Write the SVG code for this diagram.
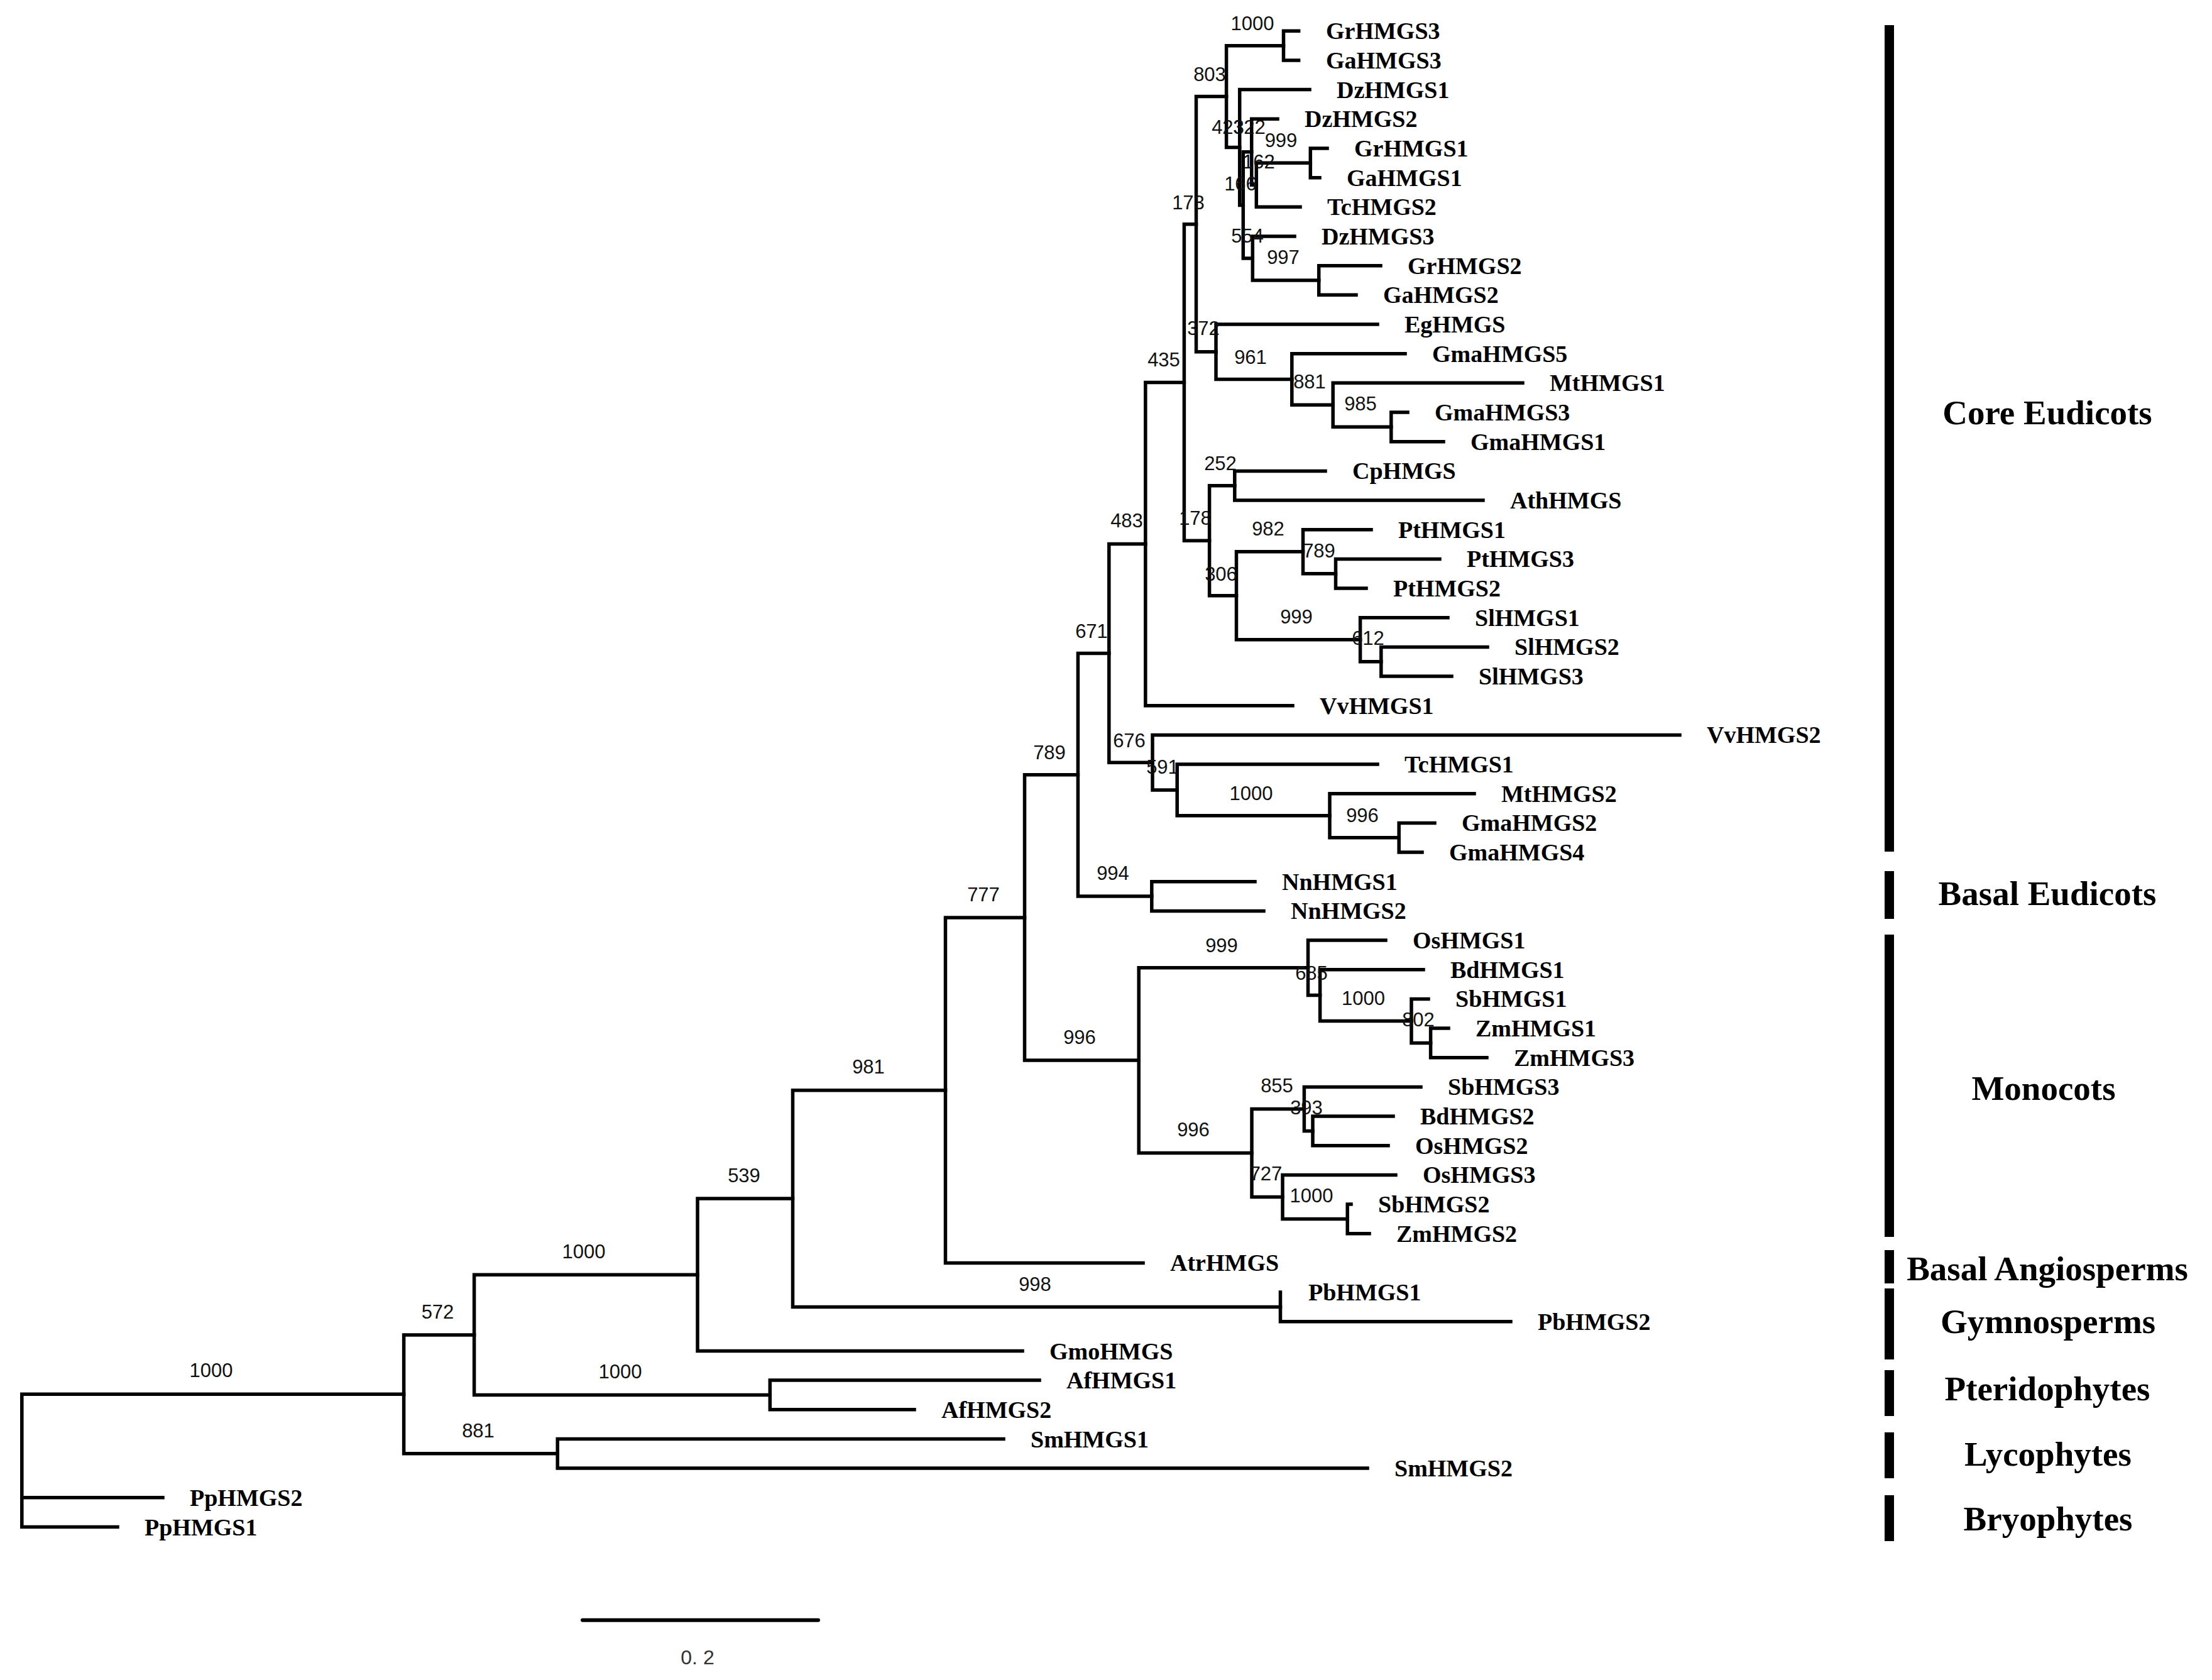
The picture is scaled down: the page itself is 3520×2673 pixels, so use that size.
<svg xmlns="http://www.w3.org/2000/svg" width="3520" height="2673" viewBox="0 0 3520 2673">
<style>
.br{fill:none;stroke:#000;stroke-width:5.5;stroke-linecap:square}
.lf{font-family:"Liberation Serif","Times New Roman",serif;font-weight:bold;font-size:38px;fill:#000}
.bs{font-family:"Liberation Sans Narrow","Liberation Sans",Arial,sans-serif;font-size:31px;fill:#111;text-anchor:middle}
.cl{font-family:"Liberation Serif","Times New Roman",serif;font-weight:bold;font-size:55px;fill:#000;text-anchor:middle}
.bar{fill:#000}
</style>
<rect width="3520" height="2673" fill="#fff"/>
<g id="connectors">
<path class="br" d="M2042.5,49.3V96 M2042.5,49.3H2066.6 M2042.5,96H2066.6"/>
<path class="br" d="M2085.3,236V282.7 M2085.3,236H2112 M2085.3,282.7H2100"/>
<path class="br" d="M1999.3,259.35V329.3 M1999.3,259.35H2085.3 M1999.3,329.3H2069"/>
<path class="br" d="M1991.7,189.3V294.3 M1991.7,189.3H2033 M1991.7,294.3H1999.3"/>
<path class="br" d="M2098.7,422.7V469.3 M2098.7,422.7H2197 M2098.7,469.3H2158"/>
<path class="br" d="M1993.3,376V446 M1993.3,376H2060 M1993.3,446H2098.7"/>
<path class="br" d="M1978.3,241.8V411 M1978.3,241.8H1991.7 M1978.3,411H1993.3"/>
<path class="br" d="M1972.7,142.6V326.4 M1972.7,142.6H2084 M1972.7,326.4H1978.3"/>
<path class="br" d="M1951.6,72.65V234.5 M1951.6,72.65H2042.5 M1951.6,234.5H1972.7"/>
<path class="br" d="M2213.8,656V702.7 M2213.8,656H2240 M2213.8,702.7H2297"/>
<path class="br" d="M2121.2,609.3V679.35 M2121.2,609.3H2423 M2121.2,679.35H2213.8"/>
<path class="br" d="M2055.8,562.7V644.3 M2055.8,562.7H2236 M2055.8,644.3H2121.2"/>
<path class="br" d="M1935,516V603.5 M1935,516H2192 M1935,603.5H2055.8"/>
<path class="br" d="M1903.5,153.6V559.75 M1903.5,153.6H1951.6 M1903.5,559.75H1935"/>
<path class="br" d="M1964.8,749.4V796 M1964.8,749.4H2109 M1964.8,796H2360"/>
<path class="br" d="M2125.5,889.4V936 M2125.5,889.4H2291 M2125.5,936H2174"/>
<path class="br" d="M2073.5,842.7V912.7 M2073.5,842.7H2182 M2073.5,912.7H2125.5"/>
<path class="br" d="M2197.8,1029.4V1076 M2197.8,1029.4H2367 M2197.8,1076H2310"/>
<path class="br" d="M2164.6,982.7V1052.7 M2164.6,982.7H2304 M2164.6,1052.7H2197.8"/>
<path class="br" d="M1967.5,877.7V1017.7 M1967.5,877.7H2073.5 M1967.5,1017.7H2164.6"/>
<path class="br" d="M1924.6,772.7V947.7 M1924.6,772.7H1964.8 M1924.6,947.7H1967.5"/>
<path class="br" d="M1884.4,356.7V860.2 M1884.4,356.7H1903.5 M1884.4,860.2H1924.6"/>
<path class="br" d="M1822.8,608.5V1122.7 M1822.8,608.5H1884.4 M1822.8,1122.7H2057"/>
<path class="br" d="M2226.2,1309.4V1356.1 M2226.2,1309.4H2283 M2226.2,1356.1H2263"/>
<path class="br" d="M2116,1262.7V1332.75 M2116,1262.7H2346 M2116,1332.75H2226.2"/>
<path class="br" d="M1873.2,1216.1V1297.7 M1873.2,1216.1H2192 M1873.2,1297.7H2116"/>
<path class="br" d="M1834,1169.4V1256.9 M1834,1169.4H2673 M1834,1256.9H1873.2"/>
<path class="br" d="M1764.8,865.6V1213.15 M1764.8,865.6H1822.8 M1764.8,1213.15H1834"/>
<path class="br" d="M1832.8,1402.7V1449.4 M1832.8,1402.7H1997 M1832.8,1449.4H2011"/>
<path class="br" d="M1715.4,1039.4V1426.05 M1715.4,1039.4H1764.8 M1715.4,1426.05H1832.8"/>
<path class="br" d="M2276.6,1636.1V1682.8 M2276.6,1636.1H2305 M2276.6,1682.8H2366"/>
<path class="br" d="M2246,1589.4V1659.45 M2246,1589.4H2273 M2246,1659.45H2276.6"/>
<path class="br" d="M2100.6,1542.7V1624.4 M2100.6,1542.7H2265 M2100.6,1624.4H2246"/>
<path class="br" d="M2081.5,1496.1V1583.55 M2081.5,1496.1H2205 M2081.5,1583.55H2100.6"/>
<path class="br" d="M2089,1776.1V1822.8 M2089,1776.1H2217 M2089,1822.8H2209"/>
<path class="br" d="M2075.4,1729.4V1799.45 M2075.4,1729.4H2261 M2075.4,1799.45H2089"/>
<path class="br" d="M2144.2,1916.1V1962.8 M2144.2,1916.1H2150 M2144.2,1962.8H2179"/>
<path class="br" d="M2041,1869.4V1939.45 M2041,1869.4H2221 M2041,1939.45H2144.2"/>
<path class="br" d="M1992,1764.4V1904.4 M1992,1764.4H2075.4 M1992,1904.4H2041"/>
<path class="br" d="M1812.2,1539.8V1834.4 M1812.2,1539.8H2081.5 M1812.2,1834.4H1992"/>
<path class="br" d="M1630.5,1232.7V1687.1 M1630.5,1232.7H1715.4 M1630.5,1687.1H1812.2"/>
<path class="br" d="M1504.5,1459.9V2009.4 M1504.5,1459.9H1630.5 M1504.5,2009.4H1819"/>
<path class="br" d="M2037.5,2056.1V2102.8 M2037.5,2102.8H2404"/>
<path class="br" d="M1261.5,1734.65V2079.45 M1261.5,1734.65H1504.5 M1261.5,2079.45H2037.5"/>
<path class="br" d="M1110,1907.05V2149.5 M1110,1907.05H1261.5 M1110,2149.5H1627"/>
<path class="br" d="M1225.3,2196.1V2242.8 M1225.3,2196.1H1654 M1225.3,2242.8H1455"/>
<path class="br" d="M754.6,2028.3V2219.45 M754.6,2028.3H1110 M754.6,2219.45H1225.3"/>
<path class="br" d="M887.2,2289.5V2336.1 M887.2,2289.5H1597 M887.2,2336.1H2176"/>
<path class="br" d="M642.6,2123.9V2312.8 M642.6,2123.9H754.6 M642.6,2312.8H887.2"/>
<path class="br" d="M34.8,2218.35V2429.5 M34.8,2218.35H642.6 M34.8,2382.8H259 M34.8,2429.5H187"/>
</g>
<g id="leaves">
<g id="leaf-GrHMGS3"><text class="lf" x="2110" y="62">GrHMGS3</text></g>
<g id="leaf-GaHMGS3"><text class="lf" x="2110" y="109">GaHMGS3</text></g>
<g id="leaf-DzHMGS1"><text class="lf" x="2127" y="155.6">DzHMGS1</text></g>
<g id="leaf-DzHMGS2"><text class="lf" x="2076" y="202.3">DzHMGS2</text></g>
<g id="leaf-GrHMGS1"><text class="lf" x="2155" y="249">GrHMGS1</text></g>
<g id="leaf-GaHMGS1"><text class="lf" x="2143" y="295.7">GaHMGS1</text></g>
<g id="leaf-TcHMGS2"><text class="lf" x="2112" y="342.3">TcHMGS2</text></g>
<g id="leaf-DzHMGS3"><text class="lf" x="2103" y="389">DzHMGS3</text></g>
<g id="leaf-GrHMGS2"><text class="lf" x="2240" y="435.7">GrHMGS2</text></g>
<g id="leaf-GaHMGS2"><text class="lf" x="2201" y="482.3">GaHMGS2</text></g>
<g id="leaf-EgHMGS"><text class="lf" x="2235" y="529">EgHMGS</text></g>
<g id="leaf-GmaHMGS5"><text class="lf" x="2279" y="575.7">GmaHMGS5</text></g>
<g id="leaf-MtHMGS1"><text class="lf" x="2466" y="622.3">MtHMGS1</text></g>
<g id="leaf-GmaHMGS3"><text class="lf" x="2283" y="669">GmaHMGS3</text></g>
<g id="leaf-GmaHMGS1"><text class="lf" x="2340" y="715.7">GmaHMGS1</text></g>
<g id="leaf-CpHMGS"><text class="lf" x="2152" y="762.4">CpHMGS</text></g>
<g id="leaf-AthHMGS"><text class="lf" x="2403" y="809">AthHMGS</text></g>
<g id="leaf-PtHMGS1"><text class="lf" x="2225" y="855.7">PtHMGS1</text></g>
<g id="leaf-PtHMGS3"><text class="lf" x="2334" y="902.4">PtHMGS3</text></g>
<g id="leaf-PtHMGS2"><text class="lf" x="2217" y="949">PtHMGS2</text></g>
<g id="leaf-SlHMGS1"><text class="lf" x="2347" y="995.7">SlHMGS1</text></g>
<g id="leaf-SlHMGS2"><text class="lf" x="2410" y="1042.4">SlHMGS2</text></g>
<g id="leaf-SlHMGS3"><text class="lf" x="2353" y="1089">SlHMGS3</text></g>
<g id="leaf-VvHMGS1"><text class="lf" x="2100" y="1135.7">VvHMGS1</text></g>
<g id="leaf-VvHMGS2"><text class="lf" x="2716" y="1182.4">VvHMGS2</text></g>
<g id="leaf-TcHMGS1"><text class="lf" x="2235" y="1229.1">TcHMGS1</text></g>
<g id="leaf-MtHMGS2"><text class="lf" x="2389" y="1275.7">MtHMGS2</text></g>
<g id="leaf-GmaHMGS2"><text class="lf" x="2326" y="1322.4">GmaHMGS2</text></g>
<g id="leaf-GmaHMGS4"><text class="lf" x="2306" y="1369.1">GmaHMGS4</text></g>
<g id="leaf-NnHMGS1"><text class="lf" x="2040" y="1415.7">NnHMGS1</text></g>
<g id="leaf-NnHMGS2"><text class="lf" x="2054" y="1462.4">NnHMGS2</text></g>
<g id="leaf-OsHMGS1"><text class="lf" x="2248" y="1509.1">OsHMGS1</text></g>
<g id="leaf-BdHMGS1"><text class="lf" x="2308" y="1555.7">BdHMGS1</text></g>
<g id="leaf-SbHMGS1"><text class="lf" x="2316" y="1602.4">SbHMGS1</text></g>
<g id="leaf-ZmHMGS1"><text class="lf" x="2348" y="1649.1">ZmHMGS1</text></g>
<g id="leaf-ZmHMGS3"><text class="lf" x="2409" y="1695.8">ZmHMGS3</text></g>
<g id="leaf-SbHMGS3"><text class="lf" x="2304" y="1742.4">SbHMGS3</text></g>
<g id="leaf-BdHMGS2"><text class="lf" x="2260" y="1789.1">BdHMGS2</text></g>
<g id="leaf-OsHMGS2"><text class="lf" x="2252" y="1835.8">OsHMGS2</text></g>
<g id="leaf-OsHMGS3"><text class="lf" x="2264" y="1882.4">OsHMGS3</text></g>
<g id="leaf-SbHMGS2"><text class="lf" x="2193" y="1929.1">SbHMGS2</text></g>
<g id="leaf-ZmHMGS2"><text class="lf" x="2222" y="1975.8">ZmHMGS2</text></g>
<g id="leaf-AtrHMGS"><text class="lf" x="1862" y="2022.4">AtrHMGS</text></g>
<g id="leaf-PbHMGS1"><text class="lf" x="2082" y="2069.1">PbHMGS1</text></g>
<g id="leaf-PbHMGS2"><text class="lf" x="2447" y="2115.8">PbHMGS2</text></g>
<g id="leaf-GmoHMGS"><text class="lf" x="1670" y="2162.5">GmoHMGS</text></g>
<g id="leaf-AfHMGS1"><text class="lf" x="1697" y="2209.1">AfHMGS1</text></g>
<g id="leaf-AfHMGS2"><text class="lf" x="1498" y="2255.8">AfHMGS2</text></g>
<g id="leaf-SmHMGS1"><text class="lf" x="1640" y="2302.5">SmHMGS1</text></g>
<g id="leaf-SmHMGS2"><text class="lf" x="2219" y="2349.1">SmHMGS2</text></g>
<g id="leaf-PpHMGS2"><text class="lf" x="302" y="2395.8">PpHMGS2</text></g>
<g id="leaf-PpHMGS1"><text class="lf" x="230" y="2442.5">PpHMGS1</text></g>
</g>
<g id="bootstrap">
<g id="bs-n1"><text class="bs" x="1993" y="47.5">1000</text></g>
<g id="bs-n2"><text class="bs" x="1925" y="129">803</text></g>
<g id="bs-n3"><text class="bs" x="1954" y="213">423</text></g>
<g id="bs-n4"><text class="bs" x="1988" y="213">322</text></g>
<g id="bs-n5"><text class="bs" x="2038.5" y="234">999</text></g>
<g id="bs-n6"><text class="bs" x="2003" y="268">162</text></g>
<g id="bs-n7"><text class="bs" x="1974" y="302.7">166</text></g>
<g id="bs-n8"><text class="bs" x="1891" y="333">173</text></g>
<g id="bs-n9"><text class="bs" x="1985" y="386">554</text></g>
<g id="bs-n10"><text class="bs" x="2042" y="420">997</text></g>
<g id="bs-n11"><text class="bs" x="1915" y="533">372</text></g>
<g id="bs-n12"><text class="bs" x="1852" y="583">435</text></g>
<g id="bs-n13"><text class="bs" x="1990" y="579">961</text></g>
<g id="bs-n14"><text class="bs" x="2084" y="618">881</text></g>
<g id="bs-n15"><text class="bs" x="2165" y="653">985</text></g>
<g id="bs-n16"><text class="bs" x="1942" y="748">252</text></g>
<g id="bs-n17"><text class="bs" x="1902" y="835">178</text></g>
<g id="bs-n18"><text class="bs" x="1793" y="839">483</text></g>
<g id="bs-n19"><text class="bs" x="2018" y="852">982</text></g>
<g id="bs-n20"><text class="bs" x="2099" y="887">789</text></g>
<g id="bs-n21"><text class="bs" x="1943" y="924">306</text></g>
<g id="bs-n22"><text class="bs" x="2063" y="992">999</text></g>
<g id="bs-n23"><text class="bs" x="2177" y="1026">612</text></g>
<g id="bs-n24"><text class="bs" x="1737" y="1014.5">671</text></g>
<g id="bs-n25"><text class="bs" x="1797" y="1189">676</text></g>
<g id="bs-n26"><text class="bs" x="1670" y="1208">789</text></g>
<g id="bs-n27"><text class="bs" x="1850" y="1231">591</text></g>
<g id="bs-n28"><text class="bs" x="1991" y="1273">1000</text></g>
<g id="bs-n29"><text class="bs" x="2168" y="1308">996</text></g>
<g id="bs-n30"><text class="bs" x="1771" y="1400">994</text></g>
<g id="bs-n31"><text class="bs" x="1565" y="1434">777</text></g>
<g id="bs-n32"><text class="bs" x="1944" y="1514.5">999</text></g>
<g id="bs-n33"><text class="bs" x="2087" y="1559">685</text></g>
<g id="bs-n34"><text class="bs" x="2169.5" y="1598.6">1000</text></g>
<g id="bs-n35"><text class="bs" x="2257" y="1633">802</text></g>
<g id="bs-n36"><text class="bs" x="1718" y="1661">996</text></g>
<g id="bs-n37"><text class="bs" x="1382" y="1708">981</text></g>
<g id="bs-n38"><text class="bs" x="2032" y="1738">855</text></g>
<g id="bs-n39"><text class="bs" x="2079" y="1772.5">393</text></g>
<g id="bs-n40"><text class="bs" x="1899" y="1808">996</text></g>
<g id="bs-n41"><text class="bs" x="2014.5" y="1878">727</text></g>
<g id="bs-n42"><text class="bs" x="1184" y="1881">539</text></g>
<g id="bs-n43"><text class="bs" x="2087" y="1913">1000</text></g>
<g id="bs-n44"><text class="bs" x="929" y="2001.6">1000</text></g>
<g id="bs-n45"><text class="bs" x="1647" y="2053.5">998</text></g>
<g id="bs-n46"><text class="bs" x="696.5" y="2098">572</text></g>
<g id="bs-n47"><text class="bs" x="336" y="2191.4">1000</text></g>
<g id="bs-n48"><text class="bs" x="987" y="2193">1000</text></g>
<g id="bs-n49"><text class="bs" x="761" y="2286.5">881</text></g>
</g>
<g id="clades">
<g id="clade-core-eudicots"><rect class="bar" x="2999" y="40" width="15" height="1315"/><text class="cl" x="3258" y="675">Core Eudicots</text></g>
<g id="clade-basal-eudicots"><rect class="bar" x="2999" y="1386" width="15" height="76"/><text class="cl" x="3258" y="1440">Basal Eudicots</text></g>
<g id="clade-monocots"><rect class="bar" x="2999" y="1487" width="15" height="481"/><text class="cl" x="3252" y="1750">Monocots</text></g>
<g id="clade-basal-angiosperms"><rect class="bar" x="2999" y="1989" width="15" height="53"/><text class="cl" x="3258" y="2037">Basal Angiosperms</text></g>
<g id="clade-gymnosperms"><rect class="bar" x="2999" y="2050" width="15" height="113"/><text class="cl" x="3259" y="2121">Gymnosperms</text></g>
<g id="clade-pteridophytes"><rect class="bar" x="2999" y="2180" width="15" height="73"/><text class="cl" x="3258" y="2228">Pteridophytes</text></g>
<g id="clade-lycophytes"><rect class="bar" x="2999" y="2279" width="15" height="73"/><text class="cl" x="3259" y="2332">Lycophytes</text></g>
<g id="clade-bryophytes"><rect class="bar" x="2999" y="2379" width="15" height="73"/><text class="cl" x="3259" y="2435">Bryophytes</text></g>
</g>
<g id="scale-bar">
<path d="M927,2577.7H1302" stroke="#000" stroke-width="6" stroke-linecap="round" fill="none"/>
<text x="1110" y="2648" font-family="Liberation Sans, Arial, sans-serif" font-size="32" fill="#333" text-anchor="middle">0. 2</text>
</g>
</svg>
